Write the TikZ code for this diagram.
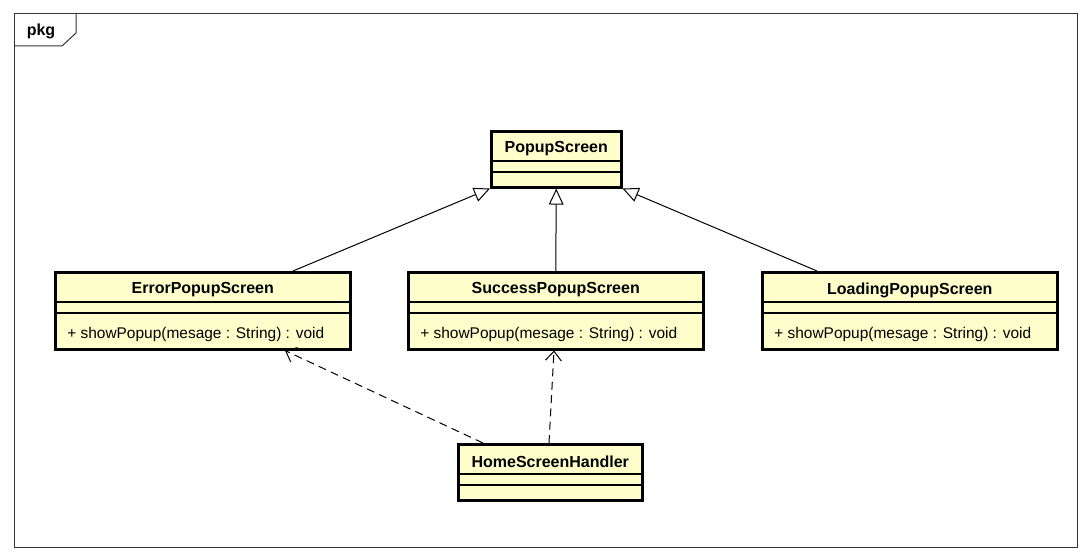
\documentclass[tikz,border=0pt]{standalone}
\usepackage{fontspec}
\setmainfont{Liberation Sans}
\usetikzlibrary{calc,arrows.meta}
\definecolor{classfill}{HTML}{FFFFCC}
\definecolor{framegray}{HTML}{333333}

\begin{document}
\begin{tikzpicture}[x=0.75pt,y=-0.75pt,
    classbox/.style={draw,line width=1.9pt,fill=classfill,inner sep=0pt,anchor=north west},
    classname/.style={font=\fontsize{12}{14}\selectfont\bfseries,inner sep=0pt},
    method/.style={font=\fontsize{11.6}{14}\selectfont,inner sep=0pt,anchor=west},
    sepline/.style={line width=0.8pt},
    extends/.style={line width=0.75pt,-{Triangle[open,length=12pt,width=11pt]}},
    uses/.style={line width=0.75pt,dash pattern=on 6pt off 4pt,-{Straight Barb[length=7pt,width=12pt]}}]
    \useasboundingbox (0,0) rectangle (1090,560);
    % package frame
    \draw[framegray,line width=0.75pt] (14,14) rectangle (1077,547);
    \draw[framegray,line width=0.75pt] (14,46) -- (62,46) -- (76,33) -- (76,14);
    \node[classname] (pkg) at (41,31) {pkg};
    % classes
    \node[classbox,minimum width=97.5pt,minimum height=42pt] (pop) at (490,130) {};
    \node[classbox,minimum width=221.25pt,minimum height=57.75pt] (err) at (54,271) {};
    \node[classbox,minimum width=221.25pt,minimum height=57.75pt] (suc) at (407,271) {};
    \node[classbox,minimum width=221.25pt,minimum height=57.75pt] (load) at (761,271) {};
    \node[classbox,minimum width=138pt,minimum height=42pt] (home) at (457,443) {};
    \foreach \c in {pop,err,suc,load,home} {
        \draw[sepline] ($(\c.north west)+(0,31)$) -- ($(\c.north east)+(0,31)$);
        \draw[sepline] ($(\c.north west)+(0,42)$) -- ($(\c.north east)+(0,42)$);
    }
    \node[classname] (popname) at ($(pop.north)+(0,19)$) {PopupScreen};
    \node[classname] (errname) at ($(err.north)+(0,19)$) {ErrorPopupScreen};
    \node[classname] (sucname) at ($(suc.north)+(0,19)$) {SuccessPopupScreen};
    \node[classname] (loadname) at ($(load.north)+(0,19)$) {LoadingPopupScreen};
    \node[classname] (homename) at ($(home.north)+(0,19)$) {HomeScreenHandler};
    \node[method] (errop) at ($(err.south west)+(13,-16)$) {+ showPopup(mesage : String) : void};
    \node[method] (sucop) at ($(suc.south west)+(13,-16)$) {+ showPopup(mesage : String) : void};
    \node[method] (loadop) at ($(load.south west)+(13,-16)$) {+ showPopup(mesage : String) : void};
    % generalizations
    \draw[extends] ($(err.north west)+(239,0)$) -- (pop.south west);
    \draw[extends] (suc.north) -- (pop.south);
    \draw[extends] ($(load.north west)+(56,0)$) -- (pop.south east);
    % dependencies
    \draw[uses] ($(home.north west)+(26,0)$) -- ($(err.south west)+(231,0)$);
    \draw[uses] ($(home.north west)+(92,0)$) -- ($(suc.south west)+(147,0)$);
\end{tikzpicture}
\end{document}
